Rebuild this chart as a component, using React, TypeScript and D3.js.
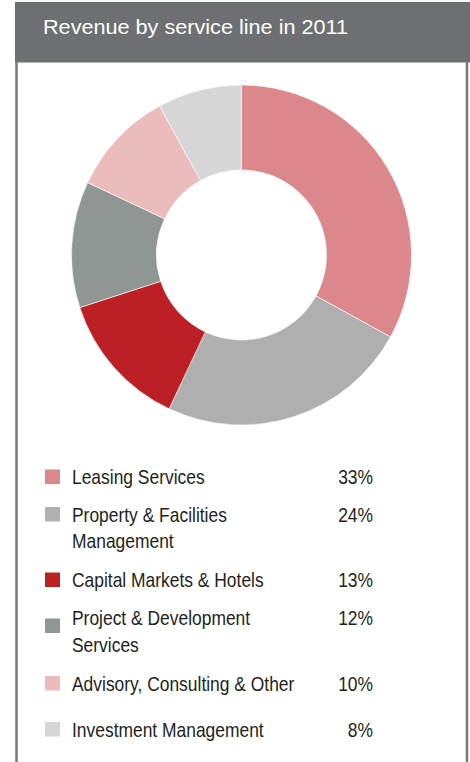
import React, { useEffect, useRef } from 'react';
import * as d3 from 'd3';

const title = 'Revenue by service line in 2011';
const categories = [
  ['Leasing Services'],
  ['Property & Facilities', 'Management'],
  ['Capital Markets & Hotels'],
  ['Project & Development', 'Services'],
  ['Advisory, Consulting & Other'],
  ['Investment Management'],
];
const shares = [33, 24, 13, 12, 10, 8];
const colors = ['#dc878b', '#afafaf', '#bc2025', '#8f9693', '#ecbbbb', '#d5d6d5'];

const FONT = '"Liberation Sans Narrow", "Arial Narrow", "Liberation Sans", Arial, sans-serif';
const NARROW = 0.85;

function App() {
  const svgRef = useRef<SVGSVGElement>(null);

  useEffect(() => {
    const svg = d3.select(svgRef.current);
    svg.selectAll('*').remove();

    svg.append('rect').attr('width', 470).attr('height', 762).attr('fill', '#fff');

    // header band
    svg.append('rect').attr('x', 15).attr('y', 2).attr('width', 455).attr('height', 60.5).attr('fill', '#6d6f72');
    svg.append('text')
      .attr('x', 43).attr('y', 33.5)
      .attr('fill', '#fff')
      .attr('font-family', '"Liberation Sans", Arial, sans-serif')
      .attr('font-size', 21)
      .attr('textLength', 305)
      .attr('lengthAdjust', 'spacingAndGlyphs')
      .text(title);

    // box borders
    [16.5, 467].forEach(x => {
      svg.append('line').attr('x1', x).attr('x2', x).attr('y1', 62).attr('y2', 762)
        .attr('stroke', '#7a7a7a').attr('stroke-width', 2.5);
    });

    // donut
    const pie = d3.pie<number>().sort(null).value(d => d);
    const arc = d3.arc<d3.PieArcDatum<number>>().innerRadius(85).outerRadius(170);
    const g = svg.append('g').attr('transform', 'translate(241.5,255)');
    g.selectAll('path')
      .data(pie(shares))
      .join('path')
      .attr('d', arc)
      .attr('fill', (d, i) => colors[i])
      .attr('stroke', '#fff')
      .attr('stroke-width', 0.6);

    // legend - rows stack down, two-line labels take an extra line
    const lineH = 26.5;
    const rowGap = [0, 37.5, 65.5, 38, 65.5, 46];
    let y = 484;
    const leg = svg.append('g');
    categories.forEach((lines, i) => {
      y += rowGap[i];
      const sw = lines.length > 1 && i === 3 ? 8 : 0;
      leg.append('rect')
        .attr('x', 45).attr('y', y - 14.5 + sw)
        .attr('width', 15).attr('height', 14.5)
        .attr('fill', colors[i]);
      lines.forEach((t, j) => {
        leg.append('text')
          .attr('transform', `translate(72,${y + j * lineH}) scale(${NARROW},1)`)
          .attr('fill', '#231f20')
          .attr('font-family', FONT)
          .attr('font-size', 20.5)
          .text(t);
      });
      leg.append('text')
        .attr('transform', `translate(373,${y}) scale(${NARROW},1)`)
        .attr('text-anchor', 'end')
        .attr('fill', '#231f20')
        .attr('font-family', FONT)
        .attr('font-size', 20.5)
        .text(shares[i] + '%');
    });
  }, []);

  return (
    <svg ref={svgRef} width={470} height={762}
      style={{ display: 'block', position: 'fixed', left: 0, top: 0 }}></svg>
  );
}

export default App;
